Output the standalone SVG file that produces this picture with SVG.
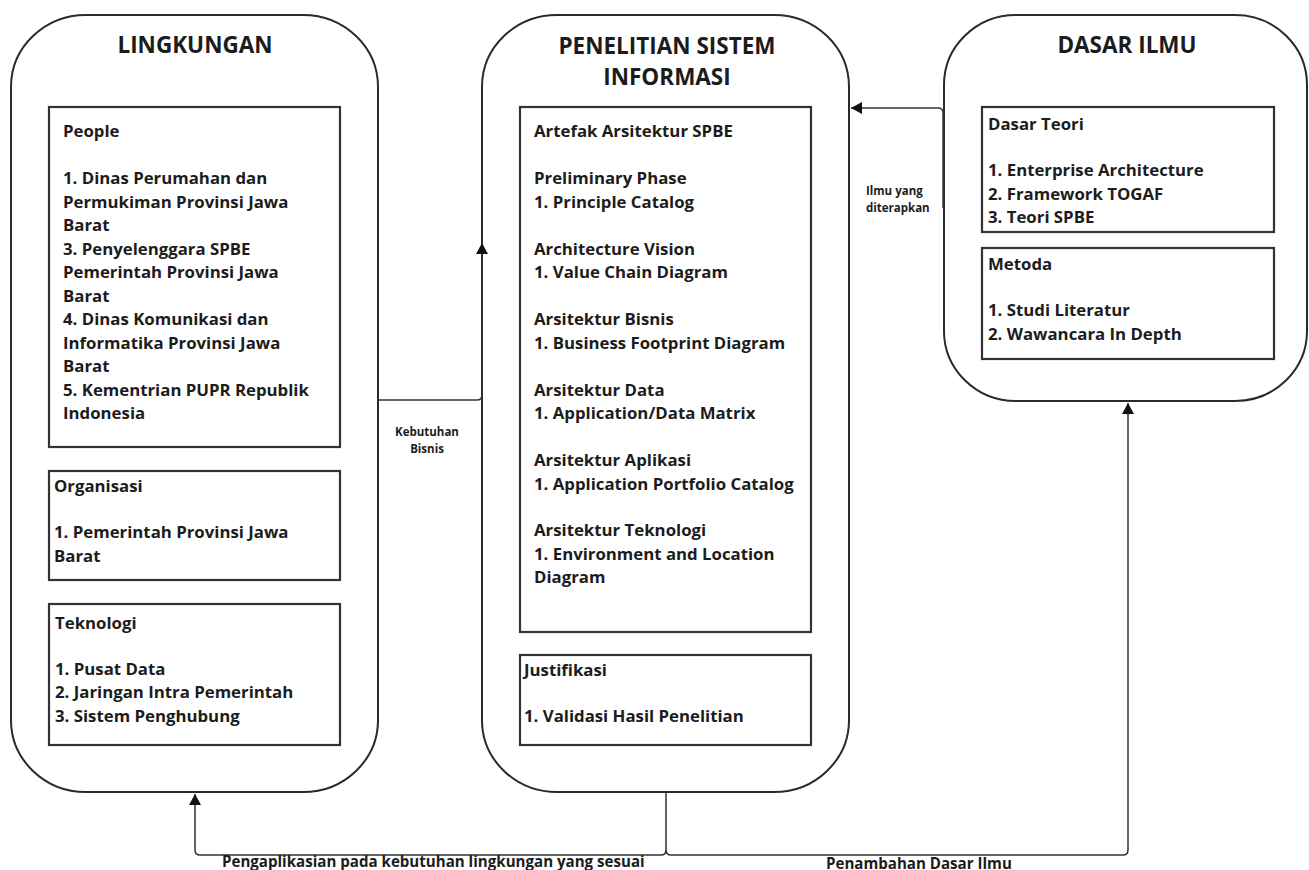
<svg xmlns="http://www.w3.org/2000/svg" width="1309" height="870" viewBox="0 0 1309 870">
<style>
  .panel { fill: #ffffff; stroke: #2a2a2a; stroke-width: 2; }
  .box { fill: #ffffff; stroke: #333333; stroke-width: 2.2; }
  .title { font-family: "Open Sans", "Liberation Sans", sans-serif; font-weight: 700; font-size: 22.5px; fill: #1c1c1c; text-anchor: middle; }
  .body { font-family: "Open Sans", "Liberation Sans", sans-serif; font-weight: 700; font-size: 16.8px; fill: #1c1c1c; }
  .small { font-family: "Open Sans", "Liberation Sans", sans-serif; font-weight: 700; font-size: 11.5px; fill: #1c1c1c; }
  .bottom { font-family: "Open Sans", "Liberation Sans", sans-serif; font-weight: 700; font-size: 15.1px; fill: #1c1c1c; }
  .conn { fill: none; stroke: #333333; stroke-width: 1.5; }
</style>
<defs>
  <marker id="arrow" markerUnits="userSpaceOnUse" markerWidth="12" markerHeight="12" refX="11" refY="6" orient="auto">
    <path d="M0,0 L11,6 L0,12 z" fill="#111111"/>
  </marker>
</defs>
<rect width="1309" height="870" fill="#ffffff"/>

<g id="lingkungan">
  <rect class="panel" x="11" y="15" width="367" height="777" rx="75" ry="72"/>
  <text class="title" x="195" y="53">LINGKUNGAN</text>
  <g id="people">
    <rect class="box" x="49" y="107" width="291" height="340"/>
    <text class="body" x="63" y="137">People</text>
    <text class="body" x="63" y="184">1. Dinas Perumahan dan</text>
    <text class="body" x="63" y="207.5">Permukiman Provinsi Jawa</text>
    <text class="body" x="63" y="231">Barat</text>
    <text class="body" x="63" y="254.5">3. Penyelenggara SPBE</text>
    <text class="body" x="63" y="278">Pemerintah Provinsi Jawa</text>
    <text class="body" x="63" y="301.5">Barat</text>
    <text class="body" x="63" y="325">4. Dinas Komunikasi dan</text>
    <text class="body" x="63" y="348.5">Informatika Provinsi Jawa</text>
    <text class="body" x="63" y="372">Barat</text>
    <text class="body" x="63" y="395.5">5. Kementrian PUPR Republik</text>
    <text class="body" x="63" y="419">Indonesia</text>
  </g>
  <g id="organisasi">
    <rect class="box" x="49" y="471" width="291" height="109"/>
    <text class="body" x="54" y="492">Organisasi</text>
    <text class="body" x="54" y="538">1. Pemerintah Provinsi Jawa</text>
    <text class="body" x="54" y="561.5">Barat</text>
  </g>
  <g id="teknologi">
    <rect class="box" x="49" y="604" width="291" height="141"/>
    <text class="body" x="55" y="629">Teknologi</text>
    <text class="body" x="55" y="674.5">1. Pusat Data</text>
    <text class="body" x="55" y="698">2. Jaringan Intra Pemerintah</text>
    <text class="body" x="55" y="721.5">3. Sistem Penghubung</text>
  </g>
</g>

<g id="penelitian">
  <rect class="panel" x="482" y="15" width="367" height="777" rx="75" ry="72"/>
  <text class="title" x="667" y="54">PENELITIAN SISTEM</text>
  <text class="title" x="667" y="85">INFORMASI</text>
  <g id="artefak">
    <rect class="box" x="520" y="107" width="291" height="525"/>
    <text class="body" x="534" y="137">Artefak Arsitektur SPBE</text>
    <text class="body" x="534" y="184">Preliminary Phase</text>
    <text class="body" x="534" y="207.5">1. Principle Catalog</text>
    <text class="body" x="534" y="254.5">Architecture Vision</text>
    <text class="body" x="534" y="278">1. Value Chain Diagram</text>
    <text class="body" x="534" y="325">Arsitektur Bisnis</text>
    <text class="body" x="534" y="348.5">1. Business Footprint Diagram</text>
    <text class="body" x="534" y="395.5">Arsitektur Data</text>
    <text class="body" x="534" y="419">1. Application/Data Matrix</text>
    <text class="body" x="534" y="466">Arsitektur Aplikasi</text>
    <text class="body" x="534" y="489.5">1. Application Portfolio Catalog</text>
    <text class="body" x="534" y="536">Arsitektur Teknologi</text>
    <text class="body" x="534" y="559.5">1. Environment and Location</text>
    <text class="body" x="534" y="583">Diagram</text>
  </g>
  <g id="justifikasi">
    <rect class="box" x="520" y="655" width="291" height="90"/>
    <text class="body" x="524" y="675.5">Justifikasi</text>
    <text class="body" x="524" y="721.5">1. Validasi Hasil Penelitian</text>
  </g>
</g>

<g id="dasar-ilmu">
  <rect class="panel" x="944" y="15" width="363" height="386" rx="72" ry="70"/>
  <text class="title" x="1127" y="53">DASAR ILMU</text>
  <g id="dasar-teori">
    <rect class="box" x="982" y="107" width="292" height="125"/>
    <text class="body" x="988" y="129.5">Dasar Teori</text>
    <text class="body" x="988" y="176">1. Enterprise Architecture</text>
    <text class="body" x="988" y="199.5">2. Framework TOGAF</text>
    <text class="body" x="988" y="223">3. Teori SPBE</text>
  </g>
  <g id="metoda">
    <rect class="box" x="982" y="248" width="292" height="111"/>
    <text class="body" x="988" y="269.5">Metoda</text>
    <text class="body" x="988" y="316">1. Studi Literatur</text>
    <text class="body" x="988" y="339.5">2. Wawancara In Depth</text>
  </g>
</g>

<g id="connectors">
  <path class="conn" d="M378,400 H477 Q482,400 482,395 V243" marker-end="url(#arrow)"/>
  <path class="conn" d="M943,208 V113 Q943,108 938,108 H851" marker-end="url(#arrow)"/>
  <path class="conn" d="M666,792 V850 Q666,855 661,855 H200 Q195,855 195,850 V794" marker-end="url(#arrow)"/>
  <path class="conn" d="M666,850 Q666,855 671,855 H1123 Q1128,855 1128,850 V403" marker-end="url(#arrow)"/>
  <text class="small" x="427" y="436" text-anchor="middle">Kebutuhan</text>
  <text class="small" x="427" y="452.5" text-anchor="middle">Bisnis</text>
  <text class="small" x="866" y="195">Ilmu yang</text>
  <text class="small" x="866" y="211.5">diterapkan</text>
  <text class="bottom" x="222" y="867">Pengaplikasian pada kebutuhan lingkungan yang sesuai</text>
  <text class="bottom" x="826" y="868.5">Penambahan Dasar Ilmu</text>
</g>
</svg>
